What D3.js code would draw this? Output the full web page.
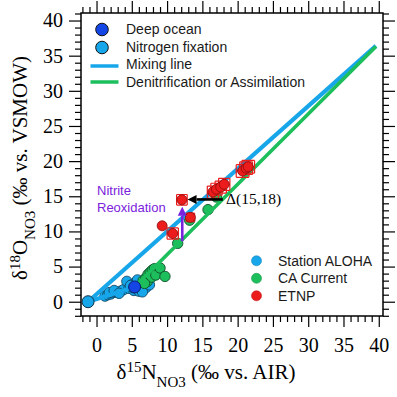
<!DOCTYPE html>
<html>
<head>
<meta charset="utf-8">
<script src="https://cdn.jsdelivr.net/npm/d3@7"></script>
<style>
  body { margin: 0; background: #fff; overflow: hidden; }
  svg { display: block; }
  text { font-family: "Liberation Serif", "Times New Roman", serif; }
  .lg { font-family: "Liberation Sans", Arial, sans-serif; font-size: 14px; fill: #1a1a1a; }
  .tick line { stroke: #000; stroke-width: 1.2; }
</style>
</head>
<body>
<svg width="397" height="397"></svg>
<script>
// Station ALOHA
const alohaX = [1.2, 1.6, 2.0, 2.3, 2.7, 3.0, 3.4, 3.8, 1.8, 2.5, 3.2, 4.3, 4.6, 5.0, 5.3, 5.6, 6.0, 6.3, 6.7, 7.0, 7.3, 5.8, 6.5, 6.9, 5.2, 7.5, 4.8];
const alohaY = [0.8, 1.0, 1.1, 1.3, 1.4, 1.3, 1.5, 1.7, 1.3, 1.6, 1.2, 2.9, 1.9, 2.4, 1.6, 2.8, 1.5, 2.2, 2.7, 2.0, 2.6, 3.1, 1.4, 3.2, 2.0, 2.4, 2.3];
// CA Current
const caX = [6.6, 7.0, 7.3, 7.6, 7.9, 8.2, 8.5, 7.2, 7.8, 8.4, 6.8, 9.0, 9.7, 11.5, 13.2, 15.8, 17.0];
const caY = [3.0, 3.4, 3.9, 4.2, 4.5, 4.7, 4.4, 2.9, 3.5, 3.8, 2.6, 4.8, 3.6, 8.3, 11.6, 13.1, 14.9];
// ETNP
const etnpX = [9.3, 10.8, 12.1, 13.3, 16.5, 17.0, 17.6, 18.1, 20.7, 21.2, 21.5];
const etnpY = [10.8, 9.7, 14.5, 12.0, 15.6, 16.0, 16.3, 16.7, 18.6, 19.0, 19.2];
const etnpXErr = [0.35, 0.8, 0.75, 0.6, 0.8, 0.8, 0.8, 0.8, 0.9, 0.9, 0.9];
const etnpYErr = [0.35, 0.8, 0.75, 0.6, 0.85, 0.85, 0.85, 0.85, 0.9, 0.9, 0.9];

// end members and lines
const nFixation = [-1.2, 0];
const deepOcean = [5.4, 2.1];
const mixingEnd = [39.6, 36.4];
const denitEnd = [39.6, 36.3];

// annotation arrows [x1, y1, x2, y2]
const reoxArrow = [12.15, 8.6, 12.15, 13.5];
const deltaArrow = [17.9, 14.55, 12.9, 14.55];

const majorTicks = [0, 5, 10, 15, 20, 25, 30, 35, 40];

const svg = d3.select('svg');
const width = +svg.attr('width');
const height = +svg.attr('height');

const margin = {top: 13, right: 14, bottom: 81, left: 81};
const innerWidth = width - margin.left - margin.right;
const innerHeight = height - margin.top - margin.bottom;

const lightBlue = '#17a6ea';
const green = '#1dbe5c';
const red = '#ec1c1c';
const purple = '#7b22dc';

const x = d3.scaleLinear().domain([-2.2, 40.6]).range([0, innerWidth]);
const y = d3.scaleLinear().domain([-2.03, 41.07]).range([innerHeight, 0]);

const g = svg.append('g').attr('transform', `translate(${margin.left},${margin.top})`);

const minorX = d3.range(-2, 41).filter(v => v % 5 !== 0);
const minorY = d3.range(-2, 42).filter(v => v % 5 !== 0);

const axisStyle = sel => { sel.select('.domain').remove(); };
const noLabels = sel => { sel.select('.domain').remove(); sel.selectAll('text').remove(); };

// bottom
g.append('g').attr('transform', `translate(0,${innerHeight})`)
  .call(d3.axisBottom(x).tickValues(minorX).tickSize(6)).call(noLabels);
g.append('g').attr('transform', `translate(0,${innerHeight})`)
  .call(d3.axisBottom(x).tickValues(majorTicks).tickSize(11).tickPadding(11).tickFormat(d3.format('d')))
  .call(axisStyle)
  .selectAll('text').style('font-size', '20px').attr('fill', '#000');
// top
g.append('g').call(d3.axisTop(x).tickValues(minorX).tickSize(6)).call(noLabels);
g.append('g').call(d3.axisTop(x).tickValues(majorTicks).tickSize(12)).call(noLabels);
// left
g.append('g').call(d3.axisLeft(y).tickValues(minorY).tickSize(6)).call(noLabels);
g.append('g').call(d3.axisLeft(y).tickValues(majorTicks).tickSize(12).tickPadding(6).tickFormat(d3.format('d')))
  .call(axisStyle)
  .selectAll('text').style('font-size', '20px').attr('fill', '#000');
// right
g.append('g').attr('transform', `translate(${innerWidth},0)`)
  .call(d3.axisRight(y).tickValues(minorY).tickSize(6)).call(noLabels);
g.append('g').attr('transform', `translate(${innerWidth},0)`)
  .call(d3.axisRight(y).tickValues(majorTicks).tickSize(12)).call(noLabels);

g.append('rect')
  .attr('width', innerWidth).attr('height', innerHeight)
  .attr('fill', 'none').attr('stroke', '#000').attr('stroke-width', 1.5);

// scatter: ALOHA and CA Current
const pts = (xs, ys) => xs.map((v, i) => ({x: v, y: ys[i]}));

g.append('g').selectAll('circle').data(pts(alohaX, alohaY)).join('circle')
  .attr('cx', d => x(d.x)).attr('cy', d => y(d.y)).attr('r', 5.2)
  .attr('fill', lightBlue).attr('stroke', '#124a66').attr('stroke-width', 0.9);

g.append('g').selectAll('circle').data(pts(caX, caY)).join('circle')
  .attr('cx', d => x(d.x)).attr('cy', d => y(d.y)).attr('r', 5.2)
  .attr('fill', green).attr('stroke', '#10502a').attr('stroke-width', 0.9);

// lines
const line = d3.line().x(d => x(d[0])).y(d => y(d[1]));
g.append('path').attr('d', line([nFixation, mixingEnd]))
  .attr('stroke', lightBlue).attr('stroke-width', 4.2).attr('fill', 'none');
g.append('path').attr('d', line([deepOcean, denitEnd]))
  .attr('stroke', green).attr('stroke-width', 3.6).attr('fill', 'none');
g.append('path').attr('d', line([nFixation, deepOcean]))
  .attr('stroke', lightBlue).attr('stroke-width', 4.2).attr('fill', 'none');

// ETNP with error bars
const etnp = etnpX.map((v, i) => ({x: v, y: etnpY[i], ex: etnpXErr[i], ey: etnpYErr[i]}));
const eb = g.append('g').attr('stroke', red).attr('stroke-width', 1.2).attr('fill', 'none');
etnp.forEach(d => {
  const x0 = x(d.x - d.ex), x1 = x(d.x + d.ex), y0 = y(d.y - d.ey), y1 = y(d.y + d.ey);
  eb.append('path').attr('d',
    `M${x0},${y(d.y)}H${x1}M${x(d.x)},${y0}V${y1}` +
    `M${x0},${y0}V${y1}M${x1},${y0}V${y1}M${x0},${y0}H${x1}M${x0},${y1}H${x1}`);
});
g.append('g').selectAll('circle').data(etnp).join('circle')
  .attr('cx', d => x(d.x)).attr('cy', d => y(d.y)).attr('r', 5)
  .attr('fill', red).attr('stroke', '#8a0a0a').attr('stroke-width', 0.8);

// end members
g.append('circle').attr('cx', x(nFixation[0])).attr('cy', y(nFixation[1])).attr('r', 6)
  .attr('fill', lightBlue).attr('stroke', '#0d2f44').attr('stroke-width', 1);
g.append('circle').attr('cx', x(deepOcean[0])).attr('cy', y(deepOcean[1])).attr('r', 6)
  .attr('fill', '#1446e6').attr('stroke', '#0b1e66').attr('stroke-width', 1);

// arrows
const arrow = (a, color) => {
  const [ax1, ay1, ax2, ay2] = a;
  const px1 = x(ax1), py1 = y(ay1), px2 = x(ax2), py2 = y(ay2);
  const ang = Math.atan2(py2 - py1, px2 - px1);
  const L = 9, W = 4.5;
  const bx = px2 - L * Math.cos(ang), by = py2 - L * Math.sin(ang);
  g.append('line').attr('x1', px1).attr('y1', py1).attr('x2', bx).attr('y2', by)
    .attr('stroke', color).attr('stroke-width', 2.6);
  g.append('path')
    .attr('d', `M${px2},${py2}L${bx - W * Math.sin(ang)},${by + W * Math.cos(ang)}L${bx + W * Math.sin(ang)},${by - W * Math.cos(ang)}Z`)
    .attr('fill', color);
};
arrow(reoxArrow, purple);
arrow(deltaArrow, '#000');

// annotations
svg.append('text').attr('class', 'lg').attr('x', 97).attr('y', 195)
  .style('font-size', '13px').style('fill', purple).text('Nitrite');
svg.append('text').attr('class', 'lg').attr('x', 97).attr('y', 212)
  .style('font-size', '13px').style('fill', purple).text('Reoxidation');
svg.append('text').attr('x', 226).attr('y', 204).style('font-size', '15.5px').text('Δ(15,18)');

// legend top-left
const lg1 = svg.append('g');
lg1.append('circle').attr('cx', 102).attr('cy', 29.5).attr('r', 6.3)
  .attr('fill', '#1446e6').attr('stroke', '#111').attr('stroke-width', 1);
lg1.append('circle').attr('cx', 102).attr('cy', 47.5).attr('r', 6.3)
  .attr('fill', lightBlue).attr('stroke', '#111').attr('stroke-width', 1);
lg1.append('line').attr('x1', 90.5).attr('x2', 118.5).attr('y1', 66).attr('y2', 66)
  .attr('stroke', lightBlue).attr('stroke-width', 3.5);
lg1.append('line').attr('x1', 90.5).attr('x2', 118.5).attr('y1', 82).attr('y2', 82)
  .attr('stroke', green).attr('stroke-width', 3.5);
const lg1Labels = ['Deep ocean', 'Nitrogen fixation', 'Mixing line', 'Denitrification or Assimilation'];
lg1.selectAll('text.lg').data(lg1Labels).join('text').attr('class', 'lg')
  .attr('x', 126).attr('y', (d, i) => 34 + i * 17.6).text(d => d);

// legend bottom-right
const lg2Labels = ['Station ALOHA', 'CA Current', 'ETNP'];
const lg2Colors = [lightBlue, green, red];
const lg2 = svg.append('g');
lg2.selectAll('circle').data(lg2Colors).join('circle')
  .attr('cx', 256.5).attr('cy', (d, i) => 260.8 + i * 17.5).attr('r', 5)
  .attr('fill', d => d).attr('stroke', d => d3.color(d).darker(0.6)).attr('stroke-width', 0.6);
lg2.selectAll('text').data(lg2Labels).join('text').attr('class', 'lg')
  .attr('x', 278).attr('y', (d, i) => 265.8 + i * 17.5).text(d => d);

// axis titles
const xt = svg.append('text').attr('x', 206).attr('y', 379)
  .attr('text-anchor', 'middle').style('font-size', '21px').style('white-space', 'pre');
xt.append('tspan').text('δ');
xt.append('tspan').attr('dy', -7.5).style('font-size', '15px').text('15');
xt.append('tspan').attr('dy', 7.5).text('N');
xt.append('tspan').attr('dy', 8).style('font-size', '15px').text('NO3');
xt.append('tspan').attr('dy', -8).text(' (‰ vs. AIR)');

const yt = svg.append('text').attr('transform', 'translate(27,168) rotate(-90)')
  .attr('text-anchor', 'middle').style('font-size', '21px').style('white-space', 'pre');
yt.append('tspan').text('δ');
yt.append('tspan').attr('dy', -7.5).style('font-size', '15px').text('18');
yt.append('tspan').attr('dy', 7.5).text('O');
yt.append('tspan').attr('dy', 8).style('font-size', '15px').text('NO3');
yt.append('tspan').attr('dy', -8).text(' (‰ vs. VSMOW)');
</script>
</body>
</html>
